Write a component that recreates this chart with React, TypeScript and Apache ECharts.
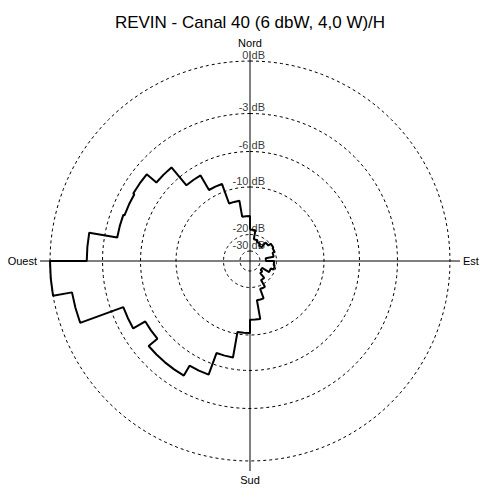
import React, { useEffect, useRef } from "react";
import * as echarts from "echarts";

const TITLE = "REVIN - Canal 40 (6 dbW, 4,0 W)/H";
const DIRECTION_NAMES = ["Nord", "Est", "Sud", "Ouest"];
const DIRECTION_ANGLES = [0, 90, 180, 270];

// dB rings drawn on the diagram and their labels
const LEVELS_DB = [0, -3, -6, -10, -20, -30];
const LEVEL_LABELS = ["0 dB", "-3 dB", "-6 dB", "-10 dB", "-20 dB", "-30 dB"];
// the diagram's own (non-linear) dB scale: radius of each ring, 0 dB = 1
const LEVEL_RADII = [1, 0.7375, 0.5475, 0.37, 0.1325, 0.05];

// pattern: one value per 10° sector, sector starts clockwise from North
const SECTOR_START = [
  0, 10, 20, 30, 40, 50, 60, 70, 80, 90, 100, 110, 120, 130, 140, 150, 160, 170,
  180, 190, 200, 210, 220, 230, 240, 250, 260, 270, 280, 290, 300, 310, 320, 330, 340, 350,
];
const SECTOR_WIDTH = 10;
const PATTERN_DB = [
  -19.0, -22.7, -23.9, -25.2, -21.5, -19.9, -20.3, -21.5, -26.4, -21.5, -20.9, -22.7,
  -27.6, -26.4, -22.7, -19.3, -17.2, -13.2, -10.4, -7.3, -5.1, -4.2, -4.2, -5.1,
  -4.0, -1.1, 0.0, -2.1, -4.0, -4.1, -4.0, -5.0, -7.2, -9.1, -12.7, -16.1,
];

// piecewise-linear dB -> radius following the diagram's ring positions
function dbToR(db: number): number {
  for (let i = 0; i < LEVELS_DB.length - 1; i++) {
    const a = LEVELS_DB[i];
    const b = LEVELS_DB[i + 1];
    if (db <= a && db >= b) {
      const t = (a - db) / (a - b);
      return LEVEL_RADII[i] + t * (LEVEL_RADII[i + 1] - LEVEL_RADII[i]);
    }
  }
  if (db > 0) return LEVEL_RADII[0];
  return Math.max(0, LEVEL_RADII[LEVEL_RADII.length - 1] * (1 - (-30 - db) / 10));
}

const FONT = "'Liberation Sans', Arial, sans-serif";

export default function App() {
  const ref = useRef<HTMLDivElement>(null);

  useEffect(() => {
    if (!ref.current) return;
    const chart = echarts.init(ref.current, undefined, { renderer: "svg" });

    const patternData: number[][] = [];
    SECTOR_START.forEach((s, i) => {
      const r = dbToR(PATTERN_DB[i]);
      patternData.push([r, s]);
      patternData.push([r, s + SECTOR_WIDTH / 2]);
      patternData.push([r, s + SECTOR_WIDTH]);
    });
    patternData.push([dbToR(PATTERN_DB[0]), 360]);

    const ringSeries = LEVELS_DB.map((db) => {
      const r = dbToR(db);
      const pts: number[][] = [];
      for (let a = 0; a <= 360; a += 3) pts.push([r, a]);
      return {
        type: "line",
        coordinateSystem: "polar",
        data: pts,
        symbol: "none",
        silent: true,
        z: 2,
        lineStyle: { color: "#000", width: 1, type: [3, 3] },
      };
    });

    const labelSeries = {
      type: "scatter",
      coordinateSystem: "polar",
      symbolSize: 0,
      silent: true,
      z: 3,
      data: LEVELS_DB.map((db, i) => ({
        value: [dbToR(db), 0],
        label: {
          show: true,
          formatter: LEVEL_LABELS[i],
          position: "top",
          distance: 1,
          align: "right",
          offset: [15, 0],
          fontSize: 11,
          color: "#000",
          fontFamily: FONT,
        },
      })),
    };

    chart.setOption({
      animation: false,
      backgroundColor: "#fff",
      title: {
        text: TITLE,
        left: "center",
        top: 9,
        textStyle: { fontSize: 17, fontWeight: "normal", color: "#000", fontFamily: FONT },
      },
      polar: { center: [250, 261], radius: 210 },
      angleAxis: {
        type: "value",
        min: 0,
        max: 360,
        interval: 90,
        startAngle: 90,
        clockwise: true,
        axisLine: { show: false },
        axisTick: { show: false },
        splitLine: { show: true, lineStyle: { color: "#000", width: 1 } },
        axisLabel: {
          show: true,
          margin: 3,
          fontSize: 11,
          color: "#000",
          fontFamily: FONT,
          formatter: (v: number) => {
            const idx = DIRECTION_ANGLES.indexOf(v);
            return idx >= 0 ? DIRECTION_NAMES[idx] : "";
          },
        },
      },
      radiusAxis: {
        type: "value",
        min: 0,
        max: 1.05,
        axisLine: { show: false },
        axisTick: { show: false },
        axisLabel: { show: false },
        splitLine: { show: false },
      },
      series: [
        ...ringSeries,
        labelSeries,
        {
          type: "line",
          coordinateSystem: "polar",
          data: patternData,
          symbol: "none",
          silent: true,
          z: 5,
          lineStyle: { color: "#000", width: 2 },
        },
      ],
    });

    return () => chart.dispose();
  }, []);

  return (
    <div
      ref={ref}
      style={{ position: "fixed", left: 0, top: 0, width: 500, height: 500, background: "#fff" }}
    />
  );
}
